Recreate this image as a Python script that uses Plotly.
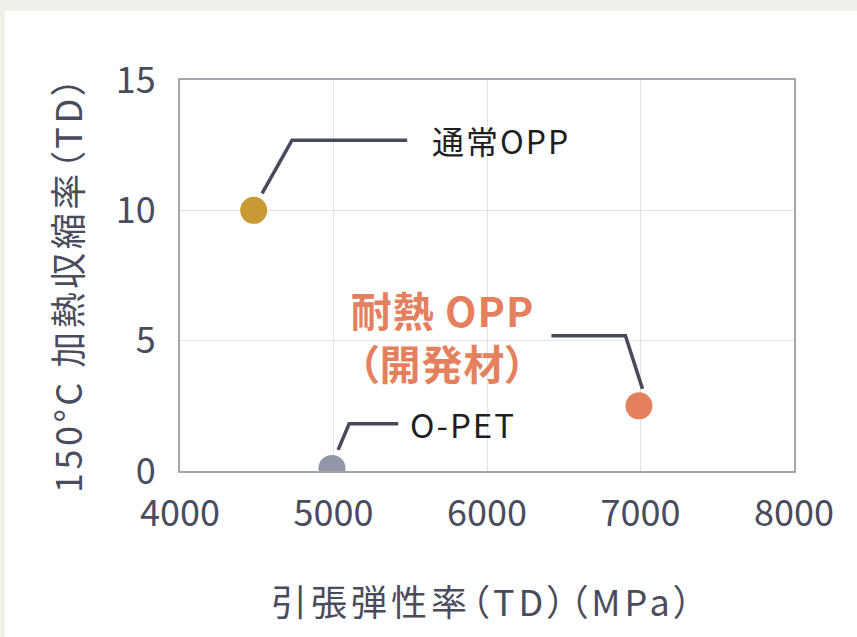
import plotly.graph_objects as go

# data
names = ["通常OPP", "耐熱OPP", "O-PET"]
modulus_td = [4480, 6990, 4990]
shrinkage_td = [10.0, 2.5, 0.1]
colors = ["#c99a33", "#e5805f", "#9196a8"]
x_ticks = [4000, 5000, 6000, 7000, 8000]
y_ticks = [0, 5, 10, 15]

FONT = "Noto Sans CJK JP"
TICK_C = "#4a4c5e"
LINE_C = "#474a5a"

fig = go.Figure()
fig.add_trace(go.Scatter(
    x=modulus_td, y=shrinkage_td, mode="markers",
    marker=dict(size=27, color=colors, line=dict(width=0)),
    showlegend=False, hoverinfo="skip"))

# leader lines (data coords)
leaders = [
    [(4535, 10.65), (4730, 12.69), (5480, 12.69)],
    [(6420, 5.19), (6902, 5.19), (7013, 3.15)],
    [(5030, 0.81), (5102, 1.81), (5422, 1.81)],
]
for pts in leaders:
    path = "M " + " L ".join(f"{x},{y}" for x, y in pts)
    fig.add_shape(type="path", path=path, xref="x", yref="y",
                  line=dict(color=LINE_C, width=3.5))

# background white panel
fig.add_shape(type="rect", xref="paper", yref="paper",
              x0=-0.285, x1=1.2, y0=-0.5, y1=1.1765,
              fillcolor="white", line=dict(width=0), layer="below")

ann = []
ann.append(dict(x=5630, y=12.69, xref="x", yref="y", text="通常OPP",
                xanchor="left", yanchor="middle", align="left", showarrow=False,
                font=dict(family=FONT, size=32, color="#1e1e1e")))
ann.append(dict(x=5487, y=1.81, xref="x", yref="y", text="O-PET",
                xanchor="left", yanchor="middle", align="left", showarrow=False,
                font=dict(family=FONT, size=33, color="#1e1e1e")))
ann.append(dict(x=5710, y=5.2, xref="x", yref="y",
                text="<b>耐熱 OPP</b><br><b>（開発材）</b>",
                xanchor="center", yanchor="middle", align="center", showarrow=False,
                font=dict(family=FONT, size=41, color="#e5805f")))
# axis titles
ann.append(dict(x=0.494, y=-0.33, xref="paper", yref="paper",
                text="引張弾性率（TD）（MPa）", xanchor="center", yanchor="middle",
                showarrow=False, font=dict(family=FONT, size=36, color=TICK_C)))
ann.append(dict(x=-0.187, y=0.4795, xref="paper", yref="paper",
                text="150°C 加熱収縮率（TD）", textangle=-90,
                xanchor="center", yanchor="middle",
                showarrow=False, font=dict(family=FONT, size=36, color=TICK_C)))

fig.update_layout(
    width=857, height=637,
    margin=dict(l=180, r=63, t=80, b=166),
    paper_bgcolor="#f0efea", plot_bgcolor="white",
    annotations=ann,
    font=dict(family=FONT, color=TICK_C),
    xaxis=dict(range=[4000, 8000], tickvals=x_ticks, showgrid=True,
               gridcolor="#e3e3e3", gridwidth=1, zeroline=False,
               showline=True, linecolor="#a5a5ad", linewidth=2, mirror=True,
               ticks="", ticklabelstandoff=10,
               tickfont=dict(family=FONT, size=36, color=TICK_C)),
    yaxis=dict(range=[0, 15], tickvals=y_ticks, showgrid=True,
               gridcolor="#e3e3e3", gridwidth=1, zeroline=False,
               showline=True, linecolor="#a5a5ad", linewidth=2, mirror=True,
               ticks="", ticklabelstandoff=15,
               tickfont=dict(family=FONT, size=36, color=TICK_C)),
)

post = """
var s=document.createElement('style');
s.innerHTML='body{margin:0 !important;background:#f0efea;}'
 + ' .annotation-text{font-feature-settings:"palt" 1;letter-spacing:2px;}'
 + ' g.annotation[data-index="3"] .annotation-text{letter-spacing:4px;}'
 + ' g.annotation[data-index="4"] .annotation-text{letter-spacing:3.5px;}'
 + ' g.annotation[data-index="2"] .annotation-text{letter-spacing:1px;}';
document.head.appendChild(s);
"""
fig.write_html("out.html", post_script=post, config={"displayModeBar": False})
